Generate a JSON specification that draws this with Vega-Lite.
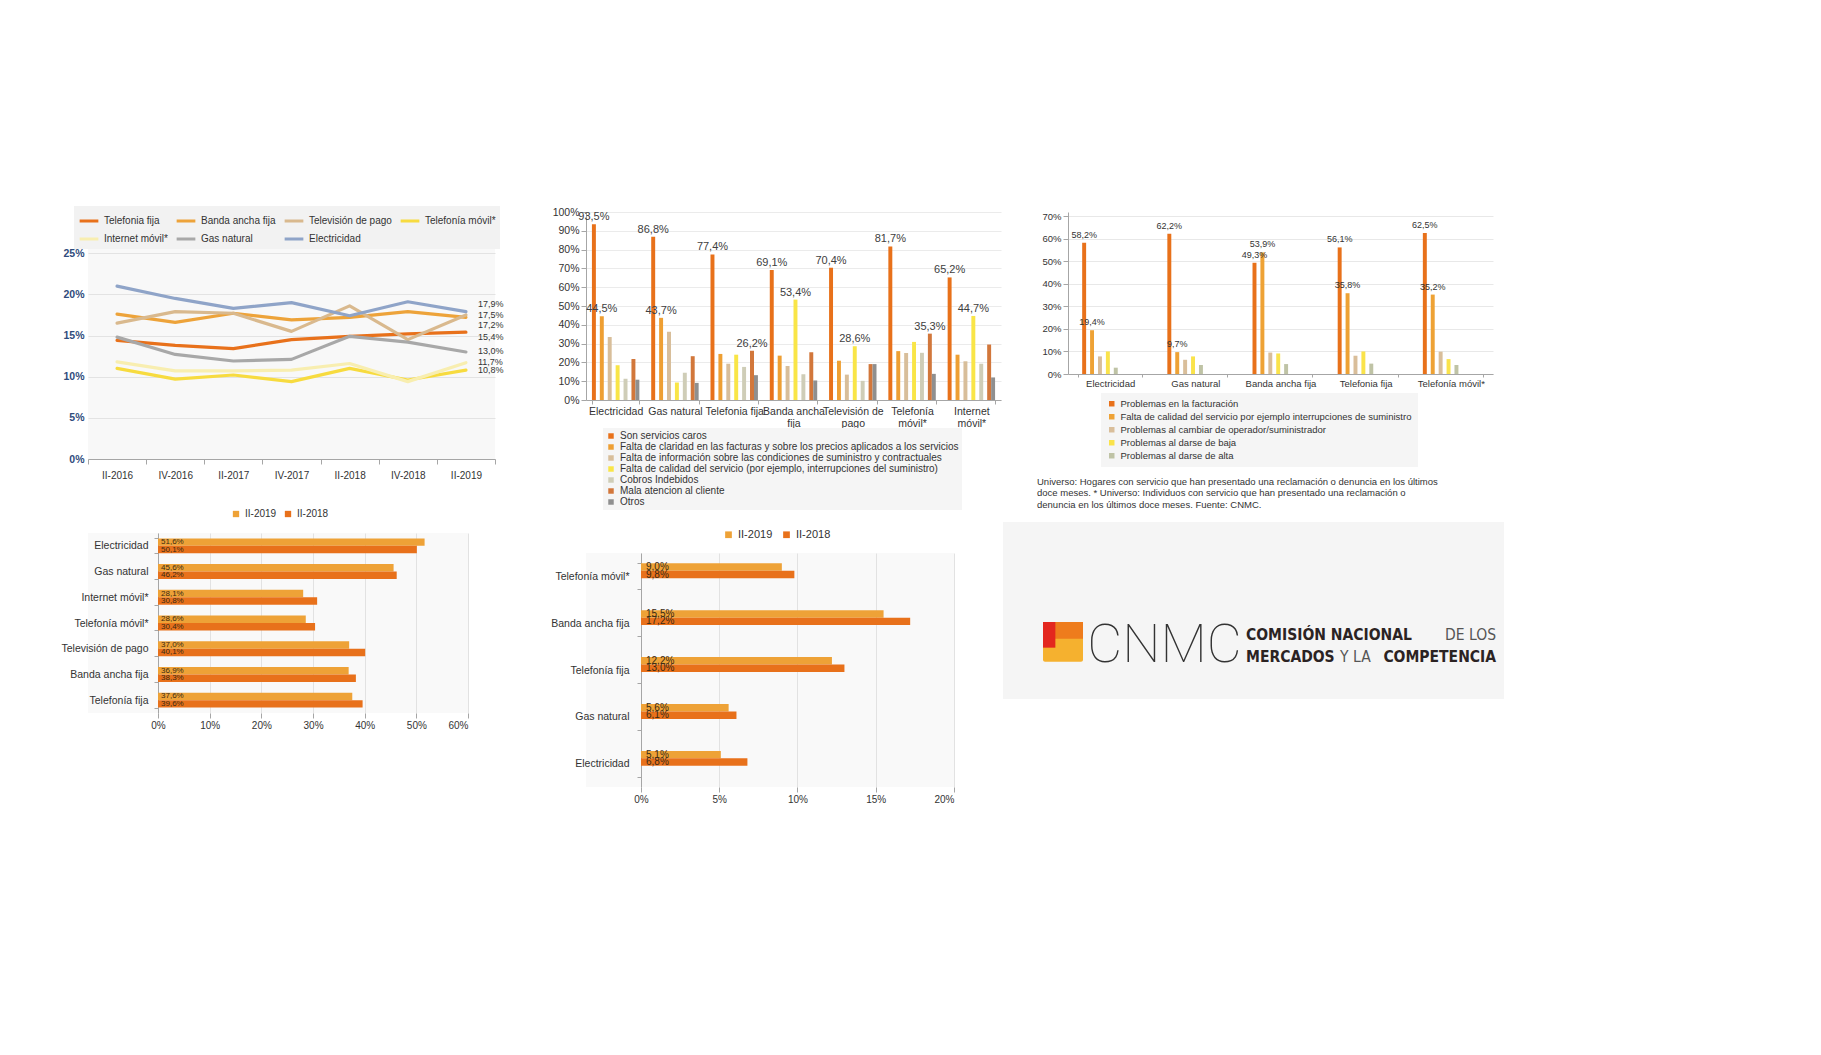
{
  "$schema": "https://vega.github.io/schema/vega-lite/v6.json",
  "padding": {"left": 58, "top": 206, "right": 5, "bottom": 5},
  "background": "white",
  "config": {
    "font": "Liberation Sans",
    "view": {"stroke": null},
    "axis": {"labelFont": "Liberation Sans", "labelColor": "#404040", "domainColor": "#A6A6A6", "tickColor": "#A6A6A6", "gridColor": "#E2E2E2"},
    "legend": {"labelFont": "Liberation Sans", "labelColor": "#333333"},
    "title": {"font": "Liberation Sans"}
  },
  "datasets": {
    "lines": [
      {"s": "Telefonia fija", "p": "II-2016", "v": 14.4}, {"s": "Telefonia fija", "p": "IV-2016", "v": 13.8}, {"s": "Telefonia fija", "p": "II-2017", "v": 13.4}, {"s": "Telefonia fija", "p": "IV-2017", "v": 14.5}, {"s": "Telefonia fija", "p": "II-2018", "v": 14.9}, {"s": "Telefonia fija", "p": "IV-2018", "v": 15.2}, {"s": "Telefonia fija", "p": "II-2019", "v": 15.4},
      {"s": "Banda ancha fija", "p": "II-2016", "v": 17.6}, {"s": "Banda ancha fija", "p": "IV-2016", "v": 16.6}, {"s": "Banda ancha fija", "p": "II-2017", "v": 17.7}, {"s": "Banda ancha fija", "p": "IV-2017", "v": 16.9}, {"s": "Banda ancha fija", "p": "II-2018", "v": 17.2}, {"s": "Banda ancha fija", "p": "IV-2018", "v": 17.9}, {"s": "Banda ancha fija", "p": "II-2019", "v": 17.2},
      {"s": "Televisión de pago", "p": "II-2016", "v": 16.5}, {"s": "Televisión de pago", "p": "IV-2016", "v": 17.9}, {"s": "Televisión de pago", "p": "II-2017", "v": 17.7}, {"s": "Televisión de pago", "p": "IV-2017", "v": 15.5}, {"s": "Televisión de pago", "p": "II-2018", "v": 18.6}, {"s": "Televisión de pago", "p": "IV-2018", "v": 14.5}, {"s": "Televisión de pago", "p": "II-2019", "v": 17.5},
      {"s": "Telefonía móvil*", "p": "II-2016", "v": 11.0}, {"s": "Telefonía móvil*", "p": "IV-2016", "v": 9.7}, {"s": "Telefonía móvil*", "p": "II-2017", "v": 10.2}, {"s": "Telefonía móvil*", "p": "IV-2017", "v": 9.4}, {"s": "Telefonía móvil*", "p": "II-2018", "v": 11.0}, {"s": "Telefonía móvil*", "p": "IV-2018", "v": 9.6}, {"s": "Telefonía móvil*", "p": "II-2019", "v": 10.8},
      {"s": "Internet móvil*", "p": "II-2016", "v": 11.8}, {"s": "Internet móvil*", "p": "IV-2016", "v": 10.7}, {"s": "Internet móvil*", "p": "II-2017", "v": 10.7}, {"s": "Internet móvil*", "p": "IV-2017", "v": 10.8}, {"s": "Internet móvil*", "p": "II-2018", "v": 11.6}, {"s": "Internet móvil*", "p": "IV-2018", "v": 9.4}, {"s": "Internet móvil*", "p": "II-2019", "v": 11.7},
      {"s": "Gas natural", "p": "II-2016", "v": 14.8}, {"s": "Gas natural", "p": "IV-2016", "v": 12.7}, {"s": "Gas natural", "p": "II-2017", "v": 11.9}, {"s": "Gas natural", "p": "IV-2017", "v": 12.1}, {"s": "Gas natural", "p": "II-2018", "v": 14.9}, {"s": "Gas natural", "p": "IV-2018", "v": 14.2}, {"s": "Gas natural", "p": "II-2019", "v": 13.0},
      {"s": "Electricidad", "p": "II-2016", "v": 21.0}, {"s": "Electricidad", "p": "IV-2016", "v": 19.5}, {"s": "Electricidad", "p": "II-2017", "v": 18.3}, {"s": "Electricidad", "p": "IV-2017", "v": 19.0}, {"s": "Electricidad", "p": "II-2018", "v": 17.4}, {"s": "Electricidad", "p": "IV-2018", "v": 19.1}, {"s": "Electricidad", "p": "II-2019", "v": 17.9}
    ],
    "hbar1": [
      {"c": "Electricidad", "s": "II-2019", "v": 51.6}, {"c": "Electricidad", "s": "II-2018", "v": 50.1},
      {"c": "Gas natural", "s": "II-2019", "v": 45.6}, {"c": "Gas natural", "s": "II-2018", "v": 46.2},
      {"c": "Internet móvil*", "s": "II-2019", "v": 28.1}, {"c": "Internet móvil*", "s": "II-2018", "v": 30.8},
      {"c": "Telefonía móvil*", "s": "II-2019", "v": 28.6}, {"c": "Telefonía móvil*", "s": "II-2018", "v": 30.4},
      {"c": "Televisión de pago", "s": "II-2019", "v": 37.0}, {"c": "Televisión de pago", "s": "II-2018", "v": 40.1},
      {"c": "Banda ancha fija", "s": "II-2019", "v": 36.9}, {"c": "Banda ancha fija", "s": "II-2018", "v": 38.3},
      {"c": "Telefonía fija", "s": "II-2019", "v": 37.6}, {"c": "Telefonía fija", "s": "II-2018", "v": 39.6}
    ],
    "hbar2": [
      {"c": "Telefonía móvil*", "s": "II-2019", "v": 9.0}, {"c": "Telefonía móvil*", "s": "II-2018", "v": 9.8},
      {"c": "Banda ancha fija", "s": "II-2019", "v": 15.5}, {"c": "Banda ancha fija", "s": "II-2018", "v": 17.2},
      {"c": "Telefonía fija", "s": "II-2019", "v": 12.2}, {"c": "Telefonía fija", "s": "II-2018", "v": 13.0},
      {"c": "Gas natural", "s": "II-2019", "v": 5.6}, {"c": "Gas natural", "s": "II-2018", "v": 6.1},
      {"c": "Electricidad", "s": "II-2019", "v": 5.1}, {"c": "Electricidad", "s": "II-2018", "v": 6.8}
    ],
    "grouped": [
      {"c": "Electricidad", "s": "Son servicios caros", "v": 93.5, "t": 1},
      {"c": "Electricidad", "s": "Falta de claridad en las facturas y sobre los precios aplicados a los servicios", "v": 44.5, "t": 1},
      {"c": "Electricidad", "s": "Falta de información sobre las condiciones de suministro y contractuales", "v": 33.5, "t": 0},
      {"c": "Electricidad", "s": "Falta de calidad del servicio (por ejemplo, interrupciones del suministro)", "v": 18.5, "t": 0},
      {"c": "Electricidad", "s": "Cobros Indebidos", "v": 11.3, "t": 0},
      {"c": "Electricidad", "s": "Mala atencion al cliente", "v": 21.8, "t": 0},
      {"c": "Electricidad", "s": "Otros", "v": 10.8, "t": 0},
      {"c": "Gas natural", "s": "Son servicios caros", "v": 86.8, "t": 1},
      {"c": "Gas natural", "s": "Falta de claridad en las facturas y sobre los precios aplicados a los servicios", "v": 43.7, "t": 1},
      {"c": "Gas natural", "s": "Falta de información sobre las condiciones de suministro y contractuales", "v": 36.3, "t": 0},
      {"c": "Gas natural", "s": "Falta de calidad del servicio (por ejemplo, interrupciones del suministro)", "v": 9.3, "t": 0},
      {"c": "Gas natural", "s": "Cobros Indebidos", "v": 14.5, "t": 0},
      {"c": "Gas natural", "s": "Mala atencion al cliente", "v": 23.3, "t": 0},
      {"c": "Gas natural", "s": "Otros", "v": 9.1, "t": 0},
      {"c": "Telefonia fija", "s": "Son servicios caros", "v": 77.4, "t": 1},
      {"c": "Telefonia fija", "s": "Falta de claridad en las facturas y sobre los precios aplicados a los servicios", "v": 24.5, "t": 0},
      {"c": "Telefonia fija", "s": "Falta de información sobre las condiciones de suministro y contractuales", "v": 19.3, "t": 0},
      {"c": "Telefonia fija", "s": "Falta de calidad del servicio (por ejemplo, interrupciones del suministro)", "v": 24.1, "t": 0},
      {"c": "Telefonia fija", "s": "Cobros Indebidos", "v": 17.6, "t": 0},
      {"c": "Telefonia fija", "s": "Mala atencion al cliente", "v": 26.2, "t": 1},
      {"c": "Telefonia fija", "s": "Otros", "v": 13.2, "t": 0},
      {"c": "Banda ancha fija", "s": "Son servicios caros", "v": 69.1, "t": 1},
      {"c": "Banda ancha fija", "s": "Falta de claridad en las facturas y sobre los precios aplicados a los servicios", "v": 23.6, "t": 0},
      {"c": "Banda ancha fija", "s": "Falta de información sobre las condiciones de suministro y contractuales", "v": 18.1, "t": 0},
      {"c": "Banda ancha fija", "s": "Falta de calidad del servicio (por ejemplo, interrupciones del suministro)", "v": 53.4, "t": 1},
      {"c": "Banda ancha fija", "s": "Cobros Indebidos", "v": 13.7, "t": 0},
      {"c": "Banda ancha fija", "s": "Mala atencion al cliente", "v": 25.4, "t": 0},
      {"c": "Banda ancha fija", "s": "Otros", "v": 10.4, "t": 0},
      {"c": "Televisión de pago", "s": "Son servicios caros", "v": 70.4, "t": 1},
      {"c": "Televisión de pago", "s": "Falta de claridad en las facturas y sobre los precios aplicados a los servicios", "v": 20.9, "t": 0},
      {"c": "Televisión de pago", "s": "Falta de información sobre las condiciones de suministro y contractuales", "v": 13.5, "t": 0},
      {"c": "Televisión de pago", "s": "Falta de calidad del servicio (por ejemplo, interrupciones del suministro)", "v": 28.6, "t": 1},
      {"c": "Televisión de pago", "s": "Cobros Indebidos", "v": 10.2, "t": 0},
      {"c": "Televisión de pago", "s": "Mala atencion al cliente", "v": 19.1, "t": 0},
      {"c": "Televisión de pago", "s": "Otros", "v": 19.1, "t": 0},
      {"c": "Telefonía móvil*", "s": "Son servicios caros", "v": 81.7, "t": 1},
      {"c": "Telefonía móvil*", "s": "Falta de claridad en las facturas y sobre los precios aplicados a los servicios", "v": 26.0, "t": 0},
      {"c": "Telefonía móvil*", "s": "Falta de información sobre las condiciones de suministro y contractuales", "v": 25.0, "t": 0},
      {"c": "Telefonía móvil*", "s": "Falta de calidad del servicio (por ejemplo, interrupciones del suministro)", "v": 30.9, "t": 0},
      {"c": "Telefonía móvil*", "s": "Cobros Indebidos", "v": 25.1, "t": 0},
      {"c": "Telefonía móvil*", "s": "Mala atencion al cliente", "v": 35.3, "t": 1},
      {"c": "Telefonía móvil*", "s": "Otros", "v": 13.9, "t": 0},
      {"c": "Internet móvil*", "s": "Son servicios caros", "v": 65.2, "t": 1},
      {"c": "Internet móvil*", "s": "Falta de claridad en las facturas y sobre los precios aplicados a los servicios", "v": 24.1, "t": 0},
      {"c": "Internet móvil*", "s": "Falta de información sobre las condiciones de suministro y contractuales", "v": 20.6, "t": 0},
      {"c": "Internet móvil*", "s": "Falta de calidad del servicio (por ejemplo, interrupciones del suministro)", "v": 44.7, "t": 1},
      {"c": "Internet móvil*", "s": "Cobros Indebidos", "v": 19.3, "t": 0},
      {"c": "Internet móvil*", "s": "Mala atencion al cliente", "v": 29.5, "t": 0},
      {"c": "Internet móvil*", "s": "Otros", "v": 12.0, "t": 0}
    ],
    "right": [
      {"c": "Electricidad", "s": "Problemas en la facturación", "v": 58.2},
      {"c": "Electricidad", "s": "Falta de calidad del servicio por ejemplo interrupciones de suministro", "v": 19.4},
      {"c": "Electricidad", "s": "Problemas al cambiar de operador/suministrador", "v": 7.8},
      {"c": "Electricidad", "s": "Problemas al darse de baja", "v": 10.0},
      {"c": "Electricidad", "s": "Problemas al darse de alta", "v": 2.8},
      {"c": "Gas natural", "s": "Problemas en la facturación", "v": 62.2},
      {"c": "Gas natural", "s": "Falta de calidad del servicio por ejemplo interrupciones de suministro", "v": 9.7},
      {"c": "Gas natural", "s": "Problemas al cambiar de operador/suministrador", "v": 6.3},
      {"c": "Gas natural", "s": "Problemas al darse de baja", "v": 7.8},
      {"c": "Gas natural", "s": "Problemas al darse de alta", "v": 4.0},
      {"c": "Banda ancha fija", "s": "Problemas en la facturación", "v": 49.3},
      {"c": "Banda ancha fija", "s": "Falta de calidad del servicio por ejemplo interrupciones de suministro", "v": 53.9},
      {"c": "Banda ancha fija", "s": "Problemas al cambiar de operador/suministrador", "v": 9.5},
      {"c": "Banda ancha fija", "s": "Problemas al darse de baja", "v": 9.1},
      {"c": "Banda ancha fija", "s": "Problemas al darse de alta", "v": 4.4},
      {"c": "Telefonia fija", "s": "Problemas en la facturación", "v": 56.1},
      {"c": "Telefonia fija", "s": "Falta de calidad del servicio por ejemplo interrupciones de suministro", "v": 35.8},
      {"c": "Telefonia fija", "s": "Problemas al cambiar de operador/suministrador", "v": 8.1},
      {"c": "Telefonia fija", "s": "Problemas al darse de baja", "v": 10.0},
      {"c": "Telefonia fija", "s": "Problemas al darse de alta", "v": 4.6},
      {"c": "Telefonía móvil*", "s": "Problemas en la facturación", "v": 62.5},
      {"c": "Telefonía móvil*", "s": "Falta de calidad del servicio por ejemplo interrupciones de suministro", "v": 35.2},
      {"c": "Telefonía móvil*", "s": "Problemas al cambiar de operador/suministrador", "v": 9.9},
      {"c": "Telefonía móvil*", "s": "Problemas al darse de baja", "v": 6.6},
      {"c": "Telefonía móvil*", "s": "Problemas al darse de alta", "v": 4.0}
    ]
  },
  "hconcat": [
    {
      "vconcat": [
        {
          "width": 407, "height": 247,
          "view": {"fill": "#F8F8F8", "stroke": null},
          "data": {"name": "lines"},
          "transform": [{"calculate": "replace(format(datum.v, '.1f'), '.', ',') + '%'", "as": "lab"}],
          "encoding": {
            "x": {"field": "p", "type": "ordinal", "sort": ["II-2016", "IV-2016", "II-2017", "IV-2017", "II-2018", "IV-2018", "II-2019"], "scale": {"type": "band", "paddingInner": 0, "paddingOuter": 0}, "bandPosition": 0.5,
              "axis": {"title": null, "labelAngle": 0, "grid": false, "tickBand": "extent", "labelFontSize": 10, "labelColor": "#333333", "labelPadding": 6}},
            "y": {"field": "v", "type": "quantitative", "scale": {"domain": [0, 30], "nice": false},
              "axis": {"title": null, "values": [0, 5, 10, 15, 20, 25], "labelExpr": "datum.value + '%'", "labelColor": "#2F4B7C", "labelFontWeight": "bold", "labelFontSize": 10.5, "grid": true, "gridColor": "#E3E3E3", "domain": false, "ticks": false, "minExtent": 30, "labelPadding": 4}}
          },
          "layer": [
            {
              "mark": {"type": "line", "strokeCap": "round", "strokeJoin": "round"},
              "encoding": {
                "color": {"field": "s", "type": "nominal",
                  "scale": {"domain": ["Telefonia fija", "Banda ancha fija", "Televisión de pago", "Telefonía móvil*", "Internet móvil*", "Gas natural", "Electricidad"],
                    "range": ["#E8711B", "#EDA33A", "#D9B98E", "#F7DB3F", "#F8EEB0", "#A8A8A8", "#8FA4C8"]},
                  "legend": {"orient": "none", "legendX": -14, "legendY": -6, "columns": 4, "direction": "horizontal", "symbolType": "stroke", "symbolStrokeWidth": 3, "symbolSize": 350, "labelFontSize": 10, "columnPadding": 2, "rowPadding": 1, "fillColor": "#F2F2F2", "padding": 4, "title": null, "labelLimit": 200}},
                "strokeWidth": {"field": "s", "type": "nominal",
                  "scale": {"domain": ["Telefonia fija", "Banda ancha fija", "Televisión de pago", "Telefonía móvil*", "Internet móvil*", "Gas natural", "Electricidad"], "range": [3.2, 3.2, 2.2, 2.6, 2.4, 2, 2]},
                  "legend": null}
              }
            },
            {"transform": [{"filter": "datum.p == 'II-2019' && datum.s == 'Electricidad'"}], "mark": {"type": "text", "align": "left", "dx": 12, "dy": -8, "fontSize": 9, "color": "#333333"}, "encoding": {"text": {"field": "lab"}}},
            {"transform": [{"filter": "datum.p == 'II-2019' && datum.s == 'Banda ancha fija'"}], "mark": {"type": "text", "align": "left", "dx": 12, "dy": 8, "fontSize": 9, "color": "#333333"}, "encoding": {"text": {"field": "lab"}}},
            {"transform": [{"filter": "datum.p == 'II-2019' && datum.s == 'Telefonia fija'"}], "mark": {"type": "text", "align": "left", "dx": 12, "dy": 5, "fontSize": 9, "color": "#333333"}, "encoding": {"text": {"field": "lab"}}},
            {"transform": [{"filter": "datum.p == 'II-2019' && (datum.s == 'Televisión de pago' || datum.s == 'Telefonía móvil*')"}], "mark": {"type": "text", "align": "left", "dx": 12, "dy": 0, "fontSize": 9, "color": "#333333"}, "encoding": {"text": {"field": "lab"}}},
            {"transform": [{"filter": "datum.p == 'II-2019' && (datum.s == 'Gas natural' || datum.s == 'Internet móvil*')"}], "mark": {"type": "text", "align": "left", "dx": 12, "dy": -1, "fontSize": 9, "color": "#333333"}, "encoding": {"text": {"field": "lab"}}}
          ]
        },
        {
          "width": 380, "height": 180,
          "view": {"fill": "#F9F9F9", "stroke": null},
          "data": {"name": "hbar1"},
          "transform": [{"calculate": "replace(format(datum.v, '.1f'), '.', ',') + '%'", "as": "lab"}],
          "encoding": {
            "y": {"field": "c", "type": "nominal", "sort": ["Electricidad", "Gas natural", "Internet móvil*", "Telefonía móvil*", "Televisión de pago", "Banda ancha fija", "Telefonía fija"], "scale": {"paddingInner": 0.42, "paddingOuter": 0.21},
              "axis": {"title": null, "offset": -70, "tickBand": "extent", "tickSize": 4, "labelFontSize": 10.5, "labelColor": "#333333", "labelPadding": 6}},
            "yOffset": {"field": "s", "type": "nominal", "sort": ["II-2019", "II-2018"]},
            "x": {"field": "v", "type": "quantitative", "scale": {"domain": [-13.55, 60], "nice": false, "zero": false},
              "axis": {"title": null, "values": [0, 10, 20, 30, 40, 50, 60], "labelExpr": "datum.value + '%'", "grid": true, "domain": false, "labelFontSize": 10, "labelColor": "#333333"}}
          },
          "layer": [
            {"mark": {"type": "bar"},
              "encoding": {"x2": {"datum": 0}, "color": {"field": "s", "type": "nominal", "scale": {"domain": ["II-2019", "II-2018"], "range": ["#EEA237", "#E8711B"]},
                "legend": {"orient": "none", "legendX": 143, "legendY": -24, "direction": "horizontal", "symbolType": "square", "symbolSize": 40, "labelFontSize": 10, "title": null, "columnPadding": 6}}}},
            {"mark": {"type": "text", "align": "left", "dx": 3, "fontSize": 8, "color": "#3A2A14"},
              "encoding": {"x": {"datum": 0, "type": "quantitative"}, "text": {"field": "lab"}}}
          ]
        }
      ],
      "spacing": 29,
      "resolve": {"scale": {"color": "independent", "x": "independent", "y": "independent"}}
    },
    {
      "vconcat": [
        {
          "width": 415, "height": 188,
          "data": {"name": "grouped"},
          "transform": [{"calculate": "replace(format(datum.v, '.1f'), '.', ',') + '%'", "as": "lab"}],
          "encoding": {
            "x": {"field": "c", "type": "nominal", "sort": ["Electricidad", "Gas natural", "Telefonia fija", "Banda ancha fija", "Televisión de pago", "Telefonía móvil*", "Internet móvil*"], "scale": {"paddingInner": 0.2, "paddingOuter": 0.1},
              "axis": {"title": null, "labelAngle": 0, "tickBand": "extent", "tickSize": 4, "labelFontSize": 10.5, "labelColor": "#333333", "labelPadding": 2, "labelLineHeight": 12,
                "labelExpr": "datum.label == 'Banda ancha fija' ? ['Banda ancha', 'fija'] : datum.label == 'Televisión de pago' ? ['Televisión de', 'pago'] : datum.label == 'Telefonía móvil*' ? ['Telefonía', 'móvil*'] : datum.label == 'Internet móvil*' ? ['Internet', 'móvil*'] : datum.label"}},
            "xOffset": {"field": "s", "type": "nominal", "sort": ["Son servicios caros", "Falta de claridad en las facturas y sobre los precios aplicados a los servicios", "Falta de información sobre las condiciones de suministro y contractuales", "Falta de calidad del servicio (por ejemplo, interrupciones del suministro)", "Cobros Indebidos", "Mala atencion al cliente", "Otros"]},
            "y": {"field": "v", "type": "quantitative", "scale": {"domain": [0, 100]},
              "axis": {"title": null, "values": [0, 10, 20, 30, 40, 50, 60, 70, 80, 90, 100], "labelExpr": "datum.value + '%'", "grid": true, "gridColor": "#EBEBEB", "labelFontSize": 10.5, "labelColor": "#333333", "minExtent": 81, "domain": true}}
          },
          "layer": [
            {"mark": {"type": "bar"},
              "encoding": {"color": {"field": "s", "type": "nominal",
                "scale": {"domain": ["Son servicios caros", "Falta de claridad en las facturas y sobre los precios aplicados a los servicios", "Falta de información sobre las condiciones de suministro y contractuales", "Falta de calidad del servicio (por ejemplo, interrupciones del suministro)", "Cobros Indebidos", "Mala atencion al cliente", "Otros"],
                  "range": ["#E8711A", "#EE9F33", "#D8BE9A", "#F9E547", "#CFCDB7", "#D2773B", "#8F8F8F"]},
                "legend": {"orient": "none", "legendX": 17, "legendY": 216, "direction": "vertical", "symbolType": "square", "symbolSize": 30, "labelFontSize": 10, "rowPadding": 1, "fillColor": "#F5F5F5", "padding": 3, "title": null, "labelLimit": 600}}}},
            {"transform": [{"filter": "datum.t == 1"}],
              "mark": {"type": "text", "baseline": "bottom", "dy": -2, "fontSize": 11, "color": "#404040"},
              "encoding": {"text": {"field": "lab"}}}
          ]
        },
        {
          "width": 368, "height": 234,
          "view": {"fill": "#F9F9F9", "stroke": null},
          "data": {"name": "hbar2"},
          "transform": [{"calculate": "replace(format(datum.v, '.1f'), '.', ',') + '%'", "as": "lab"}],
          "encoding": {
            "y": {"field": "c", "type": "nominal", "sort": ["Telefonía móvil*", "Banda ancha fija", "Telefonía fija", "Gas natural", "Electricidad"], "scale": {"paddingInner": 0.45, "paddingOuter": 0.22},
              "axis": {"title": null, "offset": -55, "tickBand": "extent", "tickSize": 4, "labelFontSize": 10.5, "labelColor": "#333333", "labelPadding": 8}},
            "yOffset": {"field": "s", "type": "nominal", "sort": ["II-2019", "II-2018"]},
            "x": {"field": "v", "type": "quantitative", "scale": {"domain": [-3.514, 20], "nice": false, "zero": false},
              "axis": {"title": null, "values": [0, 5, 10, 15, 20], "labelExpr": "datum.value + '%'", "grid": true, "domain": false, "labelFontSize": 10, "labelColor": "#333333"}}
          },
          "layer": [
            {"mark": {"type": "bar"},
              "encoding": {"x2": {"datum": 0}, "color": {"field": "s", "type": "nominal", "scale": {"domain": ["II-2019", "II-2018"], "range": ["#EEA237", "#E8711B"]},
                "legend": {"orient": "none", "legendX": 137, "legendY": -24, "direction": "horizontal", "symbolType": "square", "symbolSize": 45, "labelFontSize": 11, "title": null, "columnPadding": 8}}}},
            {"mark": {"type": "text", "align": "left", "dx": 5, "fontSize": 10, "color": "#3A2A14"},
              "encoding": {"x": {"datum": 0, "type": "quantitative"}, "text": {"field": "lab"}}}
          ]
        }
      ],
      "spacing": 19,
      "resolve": {"scale": {"color": "independent", "x": "independent", "y": "independent"}}
    },
    {
      "vconcat": [
        {
          "width": 425, "height": 162,
          "data": {"name": "right"},
          "transform": [{"calculate": "replace(format(datum.v, '.1f'), '.', ',') + '%'", "as": "lab"}],
          "encoding": {
            "x": {"field": "c", "type": "nominal", "sort": ["Electricidad", "Gas natural", "Banda ancha fija", "Telefonia fija", "Telefonía móvil*"], "scale": {"paddingInner": 0.25, "paddingOuter": 0.12},
              "axis": {"title": null, "labelAngle": 0, "tickBand": "extent", "tickSize": 3, "labelFontSize": 9.5, "labelColor": "#333333", "labelPadding": 1}},
            "xOffset": {"field": "s", "type": "nominal", "sort": ["Problemas en la facturación", "Falta de calidad del servicio por ejemplo interrupciones de suministro", "Problemas al cambiar de operador/suministrador", "Problemas al darse de baja", "Problemas al darse de alta"]},
            "y": {"field": "v", "type": "quantitative", "scale": {"domain": [0, 71.8], "nice": false},
              "axis": {"title": null, "values": [0, 10, 20, 30, 40, 50, 60, 70], "labelExpr": "datum.value + '%'", "grid": true, "gridColor": "#E8E8E8", "labelFontSize": 9.5, "labelColor": "#333333"}}
          },
          "layer": [
            {"mark": {"type": "bar"},
              "encoding": {"color": {"field": "s", "type": "nominal",
                "scale": {"domain": ["Problemas en la facturación", "Falta de calidad del servicio por ejemplo interrupciones de suministro", "Problemas al cambiar de operador/suministrador", "Problemas al darse de baja", "Problemas al darse de alta"],
                  "range": ["#E8711A", "#EEA235", "#D9BE9A", "#FAE34A", "#BFC3A5"]},
                "legend": {"orient": "none", "legendX": 33, "legendY": 181, "direction": "vertical", "symbolType": "square", "symbolSize": 30, "labelFontSize": 9.5, "rowPadding": 2, "fillColor": "#F5F5F5", "padding": 6, "title": null, "labelLimit": 600}}}},
            {"transform": [{"filter": "datum.s == 'Problemas en la facturación' || datum.s == 'Falta de calidad del servicio por ejemplo interrupciones de suministro'"}],
              "mark": {"type": "text", "baseline": "bottom", "dy": -3, "fontSize": 9, "color": "#333333"},
              "encoding": {"text": {"field": "lab"}}}
          ]
        },
        {
          "width": 436, "height": 177,
          "title": {"text": ["Universo: Hogares con servicio que han presentado una reclamación o denuncia en los últimos", "doce meses. * Universo: Individuos con servicio que han presentado una reclamación o", "denuncia en los últimos doce meses. Fuente: CNMC."], "anchor": "start", "frame": "group", "dx": -31, "fontSize": 9.5, "fontWeight": "normal", "color": "#333333", "lineHeight": 11.5, "offset": 13},
          "data": {"values": [{}]},
          "layer": [
            {"mark": {"type": "rect", "color": "#F5F5F5"},
              "encoding": {"x": {"datum": -14.91, "type": "quantitative", "scale": {"domain": [0, 100]}, "axis": null}, "x2": {"datum": 100}}},
            {"mark": {"type": "rect", "color": "#F5B12F", "cornerRadius": 2},
              "encoding": {"x": {"datum": -5.73, "type": "quantitative"}, "x2": {"datum": 3.44},
                "y": {"datum": 56.5, "type": "quantitative", "scale": {"domain": [0, 100], "reverse": true}, "axis": null}, "y2": {"datum": 79}}},
            {"mark": {"type": "rect", "color": "#EE7C1C"},
              "encoding": {"x": {"datum": -4.0, "type": "quantitative"}, "x2": {"datum": 3.44}, "y": {"datum": 56.5, "type": "quantitative"}, "y2": {"datum": 66}}},
            {"mark": {"type": "rect", "color": "#E3271E"},
              "encoding": {"x": {"datum": -5.73, "type": "quantitative"}, "x2": {"datum": -2.9}, "y": {"datum": 56.5, "type": "quantitative"}, "y2": {"datum": 71}}},
            {"mark": {"type": "text", "text": "CNMC", "font": "Roboto", "fontWeight": 100, "fontSize": 54, "align": "left", "baseline": "alphabetic", "color": "#333333"},
              "encoding": {"x": {"datum": 4.4, "type": "quantitative"}, "y": {"datum": 79.1, "type": "quantitative"}}},
            {"mark": {"type": "text", "text": "COMISIÓN NACIONAL", "font": "DejaVu Sans Condensed", "fontWeight": "bold", "fontSize": 15.5, "align": "left", "baseline": "alphabetic", "color": "#2B2323"},
              "encoding": {"x": {"datum": 40.83, "type": "quantitative"}, "y": {"datum": 66.7, "type": "quantitative"}}},
            {"mark": {"type": "text", "text": "DE LOS", "font": "DejaVu Sans Condensed", "fontWeight": "normal", "fontSize": 15.5, "align": "right", "baseline": "alphabetic", "color": "#555555"},
              "encoding": {"x": {"datum": 98.17, "type": "quantitative"}, "y": {"datum": 66.7, "type": "quantitative"}}},
            {"mark": {"type": "text", "text": "MERCADOS", "font": "DejaVu Sans Condensed", "fontWeight": "bold", "fontSize": 15.5, "align": "left", "baseline": "alphabetic", "color": "#2B2323"},
              "encoding": {"x": {"datum": 40.83, "type": "quantitative"}, "y": {"datum": 79.1, "type": "quantitative"}}},
            {"mark": {"type": "text", "text": "Y LA", "font": "DejaVu Sans Condensed", "fontWeight": "normal", "fontSize": 15.5, "align": "left", "baseline": "alphabetic", "color": "#555555"},
              "encoding": {"x": {"datum": 62.4, "type": "quantitative"}, "y": {"datum": 79.1, "type": "quantitative"}}},
            {"mark": {"type": "text", "text": "COMPETENCIA", "font": "DejaVu Sans Condensed", "fontWeight": "bold", "fontSize": 15.5, "align": "right", "baseline": "alphabetic", "color": "#2B2323"},
              "encoding": {"x": {"datum": 98.17, "type": "quantitative"}, "y": {"datum": 79.1, "type": "quantitative"}}}
          ]
        }
      ],
      "spacing": 9,
      "resolve": {"scale": {"color": "independent", "x": "independent", "y": "independent"}}
    }
  ],
  "spacing": 1,
  "resolve": {"scale": {"color": "independent", "x": "independent", "y": "independent"}}
}
